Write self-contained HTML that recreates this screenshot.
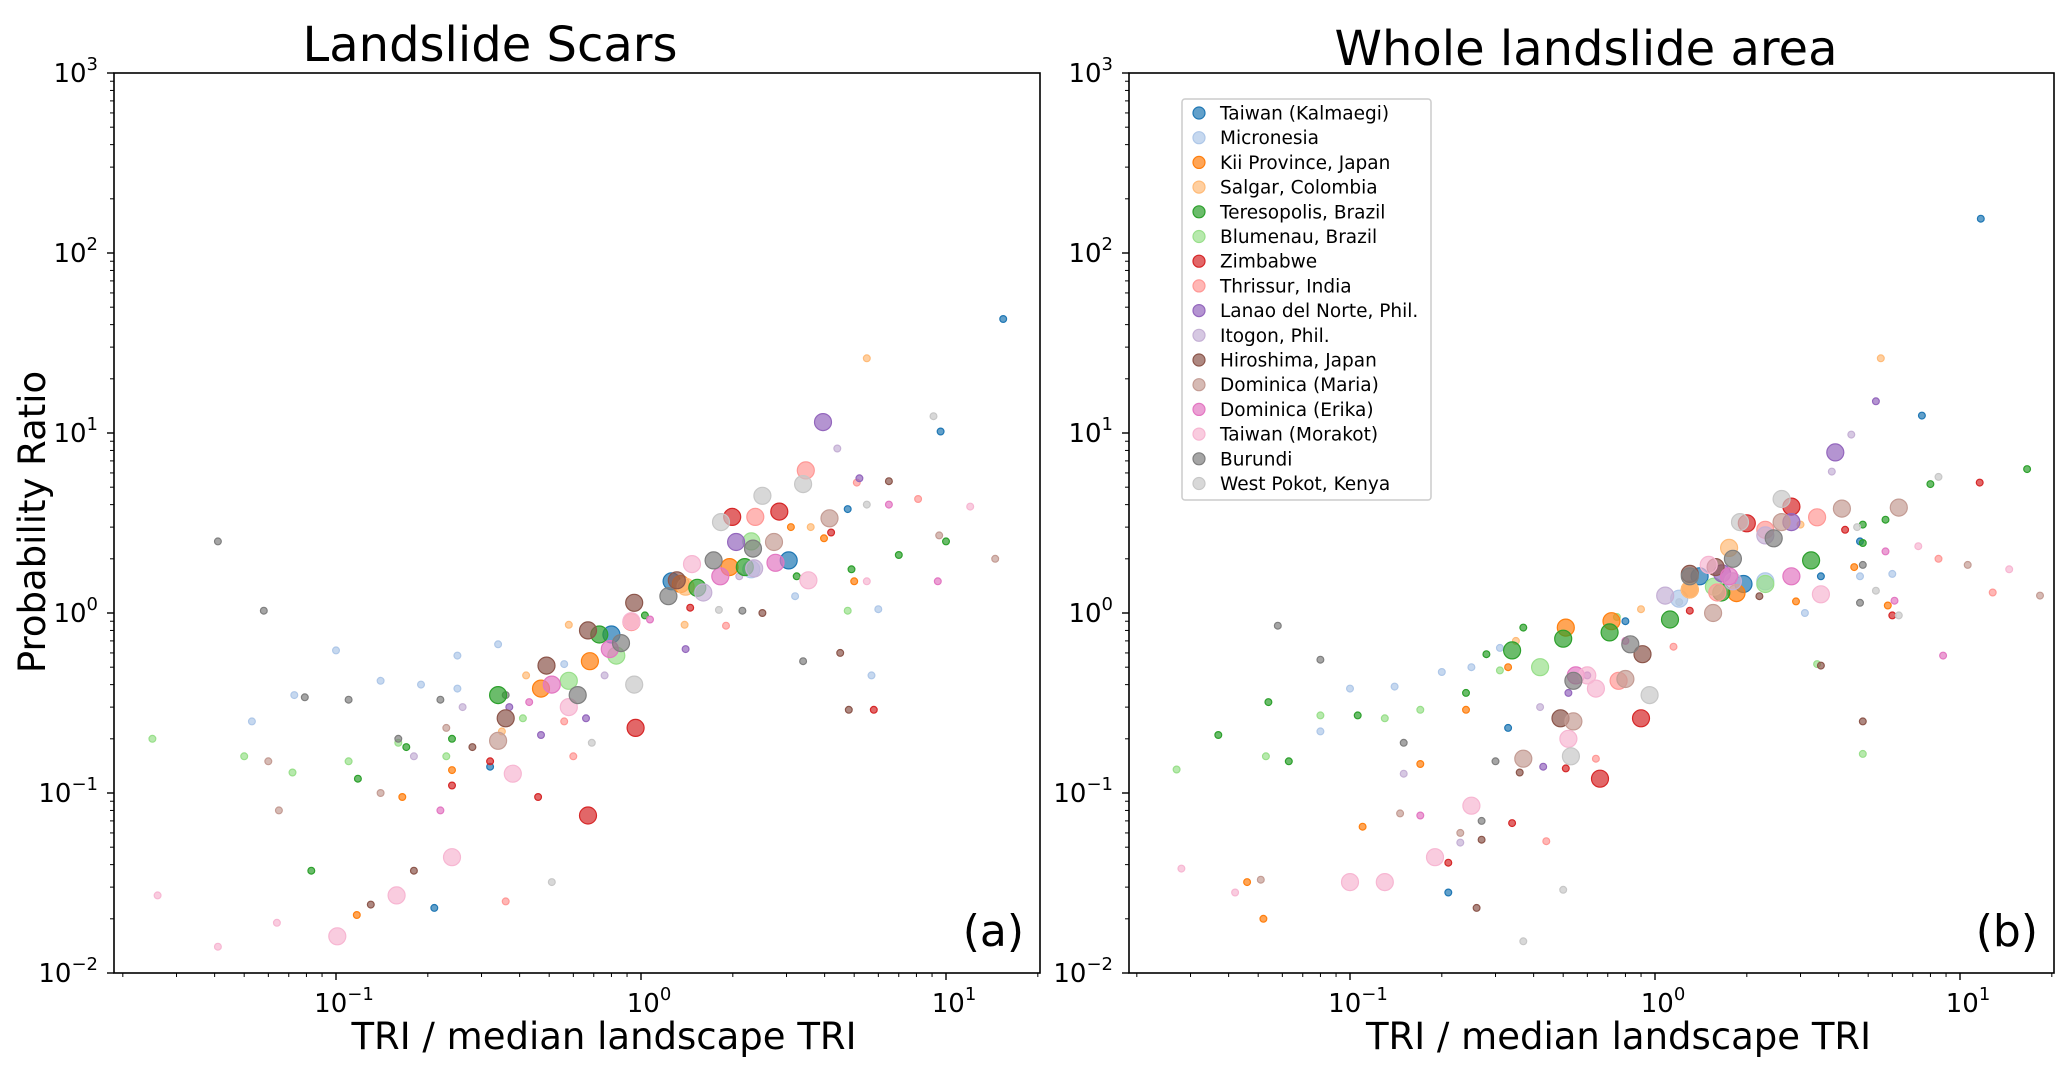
<!DOCTYPE html>
<html><head><meta charset="utf-8">
<style>
html,body{margin:0;padding:0;background:#fff;}
svg{display:block;font-family:"DejaVu Sans","Liberation Sans",sans-serif;}
</style></head>
<body>
<svg id="chart" width="2067" height="1082" viewBox="0 0 2067 1082" xmlns="http://www.w3.org/2000/svg"></svg>
<script>
const seriesNames = ["Taiwan (Kalmaegi)","Micronesia","Kii Province, Japan","Salgar, Colombia","Teresopolis, Brazil","Blumenau, Brazil","Zimbabwe","Thrissur, India","Lanao del Norte, Phil.","Itogon, Phil.","Hiroshima, Japan","Dominica (Maria)","Dominica (Erika)","Taiwan (Morakot)","Burundi","West Pokot, Kenya"];
const seriesColors = ["#1f77b4","#aec7e8","#ff7f0e","#ffbb78","#2ca02c","#98df8a","#d62728","#ff9896","#9467bd","#c5b0d5","#8c564b","#c49c94","#e377c2","#f7b6d2","#7f7f7f","#c7c7c7"];
const yTickExps = [-2,-1,0,1,2,3];
const xTickExps = [-1,0,1];
// [series, x, y, big(1)/small(0)]
const scarsPoints = [
[0,0.80,0.76,1],[0,1.26,1.50,1],[0,3.05,1.96,1],[0,9.6,10.2,0],[0,15.4,43,0],[0,4.76,3.78,0],[0,0.32,0.14,0],[0,0.21,0.023,0],
[1,0.1,0.62,0],[1,0.14,0.42,0],[1,0.19,0.40,0],[1,0.25,0.38,0],[1,0.073,0.35,0],[1,0.053,0.25,0],[1,0.25,0.58,0],[1,0.34,0.67,0],[1,5.7,0.45,0],[1,3.2,1.24,0],[1,0.56,0.52,0],[1,6.0,1.05,0],[1,2.3,1.75,1],
[2,0.68,0.54,1],[2,0.47,0.38,1],[2,1.35,1.45,1],[2,1.95,1.8,1],[2,0.165,0.095,0],[2,0.117,0.021,0],[2,0.24,0.134,0],[2,3.1,3.0,0],[2,3.98,2.6,0],[2,5.0,1.5,0],
[3,5.5,26,0],[3,3.6,3.0,0],[3,0.58,0.86,0],[3,0.42,0.45,0],[3,0.35,0.22,0],[3,1.39,0.86,0],[3,1.4,1.4,1],
[4,0.34,0.35,1],[4,0.73,0.76,1],[4,1.53,1.38,1],[4,2.19,1.8,1],[4,0.24,0.2,0],[4,0.118,0.12,0],[4,0.083,0.037,0],[4,0.17,0.18,0],[4,4.9,1.75,0],[4,7.0,2.1,0],[4,10,2.5,0],[4,3.24,1.6,0],[4,1.03,0.97,0],
[5,0.83,0.58,1],[5,0.58,0.42,1],[5,2.3,2.5,1],[5,0.025,0.2,0],[5,0.05,0.16,0],[5,0.072,0.13,0],[5,0.11,0.15,0],[5,0.16,0.19,0],[5,0.23,0.16,0],[5,4.76,1.03,0],[5,0.41,0.26,0],
[6,1.99,3.42,1],[6,2.84,3.66,1],[6,0.96,0.23,1],[6,0.67,0.075,1],[6,0.46,0.095,0],[6,5.8,0.29,0],[6,1.45,1.07,0],[6,4.2,2.8,0],[6,0.32,0.15,0],[6,0.24,0.11,0],
[7,2.37,3.42,1],[7,3.47,6.2,1],[7,0.93,0.89,1],[7,0.56,0.25,0],[7,0.6,0.16,0],[7,8.1,4.3,0],[7,1.9,0.85,0],[7,0.36,0.025,0],[7,5.1,5.3,0],
[8,3.95,11.5,1],[8,2.05,2.48,1],[8,5.2,5.6,0],[8,0.47,0.21,0],[8,1.4,0.63,0],[8,0.66,0.26,0],[8,0.37,0.3,0],
[9,2.35,1.77,1],[9,1.6,1.3,1],[9,4.4,8.2,0],[9,0.18,0.16,0],[9,0.26,0.3,0],[9,0.76,0.45,0],[9,2.1,1.6,0],
[10,0.67,0.80,1],[10,0.36,0.26,1],[10,0.49,0.51,1],[10,0.95,1.14,1],[10,1.31,1.52,1],[10,6.5,5.4,0],[10,2.5,1.0,0],[10,4.5,0.6,0],[10,0.13,0.024,0],[10,0.18,0.037,0],[10,0.28,0.18,0],[10,4.8,0.29,0],
[11,4.15,3.36,1],[11,2.73,2.48,1],[11,0.34,0.195,1],[11,9.5,2.7,0],[11,14.5,2,0],[11,0.06,0.15,0],[11,0.14,0.1,0],[11,0.23,0.23,0],[11,0.065,0.08,0],
[12,0.51,0.40,1],[12,0.79,0.63,1],[12,1.82,1.6,1],[12,2.76,1.9,1],[12,6.5,4,0],[12,9.4,1.5,0],[12,0.22,0.08,0],[12,1.07,0.92,0],[12,0.43,0.32,0],
[13,3.54,1.52,1],[13,1.47,1.87,1],[13,0.58,0.30,1],[13,0.38,0.128,1],[13,0.24,0.044,1],[13,0.158,0.027,1],[13,0.101,0.016,1],[13,0.93,0.9,1],[13,0.026,0.027,0],[13,0.041,0.014,0],[13,0.064,0.019,0],[13,5.5,1.5,0],[13,12,3.9,0],
[14,0.86,0.68,1],[14,0.62,0.35,1],[14,1.23,1.24,1],[14,2.33,2.28,1],[14,1.73,1.96,1],[14,0.041,2.5,0],[14,0.058,1.03,0],[14,0.079,0.34,0],[14,0.11,0.33,0],[14,0.16,0.2,0],[14,0.22,0.33,0],[14,3.4,0.54,0],[14,2.15,1.03,0],[14,0.36,0.35,0],
[15,1.83,3.2,1],[15,2.50,4.48,1],[15,3.4,5.2,1],[15,0.95,0.40,1],[15,5.5,4,0],[15,9.1,12.4,0],[15,0.51,0.032,0],[15,0.69,0.19,0],[15,1.8,1.04,0]
];
const wholePoints = [
[0,1.4,1.6,1],[0,1.95,1.45,1],[0,11.7,155,0],[0,7.5,12.5,0],[0,3.5,1.6,0],[0,4.7,2.5,0],[0,0.33,0.23,0],[0,0.21,0.028,0],[0,0.8,0.9,0],
[1,0.14,0.39,0],[1,0.1,0.38,0],[1,0.25,0.5,0],[1,0.31,0.64,0],[1,0.08,0.22,0],[1,4.7,1.6,0],[1,1.2,1.2,1],[1,2.3,1.5,1],[1,6.0,1.65,0],[1,0.2,0.47,0],[1,3.1,1.0,0],
[2,0.51,0.83,1],[2,1.3,1.35,1],[2,1.85,1.29,1],[2,0.72,0.9,1],[2,0.046,0.032,0],[2,0.052,0.02,0],[2,0.11,0.065,0],[2,0.17,0.145,0],[2,0.24,0.29,0],[2,4.5,1.8,0],[2,5.8,1.1,0],[2,2.9,1.16,0],[2,0.33,0.5,0],
[3,5.5,26,0],[3,3.0,3.1,0],[3,0.35,0.7,0],[3,1.75,2.3,1],[3,1.3,1.35,1],[3,0.9,1.05,0],
[4,0.34,0.62,1],[4,0.71,0.78,1],[4,1.12,0.92,1],[4,3.25,1.96,1],[4,1.65,1.3,1],[4,0.5,0.72,1],[4,0.28,0.59,0],[4,0.37,0.83,0],[4,0.24,0.36,0],[4,0.037,0.21,0],[4,0.054,0.32,0],[4,0.063,0.15,0],[4,0.106,0.27,0],[4,16.6,6.3,0],[4,8,5.2,0],[4,4.8,3.1,0],[4,4.8,2.45,0],[4,5.7,3.3,0],
[5,0.42,0.5,1],[5,1.56,1.4,1],[5,2.3,1.45,1],[5,0.027,0.135,0],[5,0.053,0.16,0],[5,0.08,0.27,0],[5,0.13,0.26,0],[5,0.17,0.29,0],[5,0.31,0.48,0],[5,4.8,0.165,0],[5,3.4,0.52,0],[5,0.75,0.95,0],
[6,2.0,3.15,1],[6,2.8,3.9,1],[6,0.9,0.26,1],[6,0.66,0.12,1],[6,6,0.97,0],[6,11.6,5.3,0],[6,4.2,2.9,0],[6,1.3,1.03,0],[6,0.51,0.137,0],[6,0.34,0.068,0],[6,0.21,0.041,0],
[7,3.4,3.4,1],[7,0.76,0.42,1],[7,2.3,2.9,1],[7,1.6,1.3,1],[7,8.5,2.0,0],[7,12.8,1.3,0],[7,0.64,0.155,0],[7,0.44,0.054,0],[7,1.15,0.65,0],
[8,3.9,7.8,1],[8,2.8,3.2,1],[8,1.66,1.66,1],[8,5.3,15,0],[8,0.43,0.14,0],[8,0.52,0.36,0],[8,0.6,0.45,0],
[9,2.3,2.7,1],[9,1.08,1.25,1],[9,1.8,1.5,1],[9,4.4,9.8,0],[9,3.8,6.1,0],[9,0.15,0.128,0],[9,0.23,0.053,0],[9,0.42,0.3,0],
[10,0.91,0.59,1],[10,0.49,0.26,1],[10,1.58,1.8,1],[10,1.3,1.65,1],[10,4.8,0.25,0],[10,3.5,0.51,0],[10,2.2,1.24,0],[10,0.26,0.023,0],[10,0.27,0.055,0],[10,0.36,0.13,0],
[11,4.1,3.8,1],[11,6.3,3.85,1],[11,1.55,1.0,1],[11,0.8,0.43,1],[11,0.37,0.155,1],[11,0.54,0.25,1],[11,2.6,3.2,1],[11,18.3,1.25,0],[11,10.6,1.85,0],[11,0.146,0.077,0],[11,0.23,0.06,0],[11,0.051,0.033,0],
[12,0.55,0.45,1],[12,2.8,1.6,1],[12,1.75,1.6,1],[12,8.8,0.58,0],[12,6.1,1.17,0],[12,5.7,2.2,0],[12,0.17,0.075,0],[12,0.8,0.7,0],
[13,3.5,1.27,1],[13,1.5,1.85,1],[13,0.64,0.38,1],[13,0.52,0.2,1],[13,0.25,0.085,1],[13,0.19,0.044,1],[13,0.13,0.032,1],[13,0.1,0.032,1],[13,0.028,0.038,0],[13,0.042,0.028,0],[13,14.5,1.75,0],[13,7.3,2.35,0],[13,0.6,0.45,1],
[14,2.45,2.6,1],[14,0.83,0.67,1],[14,0.54,0.42,1],[14,1.8,2.0,1],[14,1.3,1.6,1],[14,0.058,0.85,0],[14,0.08,0.55,0],[14,0.15,0.19,0],[14,0.27,0.07,0],[14,0.3,0.15,0],[14,4.7,1.14,0],[14,4.8,1.85,0],
[15,2.6,4.3,1],[15,1.9,3.2,1],[15,0.96,0.35,1],[15,0.53,0.16,1],[15,8.5,5.7,0],[15,5.3,1.33,0],[15,6.3,0.97,0],[15,0.37,0.015,0],[15,0.5,0.029,0],[15,4.6,3.0,0],[15,1.2,1.15,0]
];

const NS = "http://www.w3.org/2000/svg";
const svg = document.getElementById('chart');
function mk(tag, attrs, parent){ const e=document.createElementNS(NS,tag); for(const k in attrs) e.setAttribute(k,attrs[k]); (parent||svg).appendChild(e); return e; }

const panels = [
 {id:'scars', left:114, right:1040, x0:641, title:'Landslide Scars', tx:490, ty:61, tag:'(a)', pts:scarsPoints, legend:false},
 {id:'whole', left:1129, right:2054, x0:1655, title:'Whole landslide area', tx:1586, ty:65, tag:'(b)', pts:wholePoints, legend:true}
];
const TOP=73, BOT=973, DEC_X=305, DEC_Y=180;
function yScale(v){ return BOT - DEC_Y*(Math.log10(v)+2); }

panels.forEach(p=>{
  const xScale = v => p.x0 + DEC_X*Math.log10(v);
  const g = mk('g',{});
  
  
  const clipId='clip-'+p.id;
  const cp=mk('clipPath',{id:clipId},g);
  mk('rect',{x:p.left,y:TOP,width:p.right-p.left,height:BOT-TOP},cp);
  const t=mk('text',{x:p.tx,y:p.ty,'font-size':48,'text-anchor':'middle',fill:'#000'},g);
  t.textContent=p.title;
  
  
  const pg=mk('g',{'clip-path':'url(#'+clipId+')'},g);
  
  
  const order=[...p.pts].sort((a,b)=>a[3]-b[3]);
  order.forEach(d=>{
    const c=mk('circle',{cx:xScale(d[1]).toFixed(1),cy:yScale(d[2]).toFixed(1),r:d[3]?8.5:3.4,fill:seriesColors[d[0]],'fill-opacity':0.7,stroke:seriesColors[d[0]],'stroke-width':1.2},pg);
    
    
  });
  const fr=mk('rect',{x:p.left,y:TOP,width:p.right-p.left,height:BOT-TOP,fill:'none',stroke:'#000','stroke-width':1.6},g);
  
  
  for(let e=-2;e<3;e++){ for(let m=2;m<10;m++){ const y=yScale(m*Math.pow(10,e)); mk('line',{x1:p.left-4,x2:p.left,y1:y,y2:y,stroke:'#000','stroke-width':1},g);} }
  yTickExps.forEach(e=>{
    const y=yScale(Math.pow(10,e));
    mk('line',{x1:p.left-7,x2:p.left,y1:y,y2:y,stroke:'#000','stroke-width':1.4},g);
    const tx=mk('text',{x:p.left-16,y:y+9,'font-size':26,'text-anchor':'end',fill:'#000'},g);
    
    
    tx.textContent='10';
    const s=mk('tspan',{dy:-12,'font-size':18},tx); s.textContent=(e<0?'\u2212'+(-e):''+e);
  });
  for(let e=-2;e<2;e++){ for(let m=2;m<10;m++){ const x=xScale(m*Math.pow(10,e)); if(x>p.left&&x<p.right) mk('line',{x1:x,x2:x,y1:BOT,y2:BOT+4,stroke:'#000','stroke-width':1},g);} }
  xTickExps.forEach(e=>{
    const x=xScale(Math.pow(10,e));
    mk('line',{x1:x,x2:x,y1:BOT,y2:BOT+7,stroke:'#000','stroke-width':1.4},g);
    const tx=mk('text',{x:x+8,y:BOT+39,'font-size':26,'text-anchor':'middle',fill:'#000'},g);
    
    
    tx.textContent='10';
    const s=mk('tspan',{dy:-12,'font-size':18},tx); s.textContent=(e<0?'\u2212'+(-e):''+e);
  });
  const xl=mk('text',{x:(p.left+p.right)/2+27,y:1049,'font-size':37,'text-anchor':'middle',fill:'#000'},g);
  xl.textContent='TRI / median landscape TRI';
  
  
  const tg=mk('text',{x:p.right-16,y:946,'font-size':44,'text-anchor':'end',fill:'#000'},g);
  tg.textContent=p.tag;
  
  
  if(p.legend){
    const lg=mk('g',{},g);
    
    
    mk('rect',{x:1182,y:99,width:249,height:401,rx:3,fill:'#fff',stroke:'#ccc','stroke-width':1.5},lg);
    seriesNames.forEach((n,i)=>{
      const y=113+i*24.7;
      const en=mk('g',{},lg);
      
      
      mk('circle',{cx:1199,cy:y,r:6,fill:seriesColors[i],'fill-opacity':0.7,stroke:seriesColors[i],'stroke-width':1.2},en);
      const tx=mk('text',{x:1220,y:y+6.5,'font-size':18.5,fill:'#000'},en);
      tx.textContent=n;
    });
  }
});
const yl=mk('text',{x:0,y:0,'font-size':37,'text-anchor':'middle',fill:'#000',transform:'translate(45,522) rotate(-90)'});
yl.textContent='Probability Ratio';


</script>
</body></html>
